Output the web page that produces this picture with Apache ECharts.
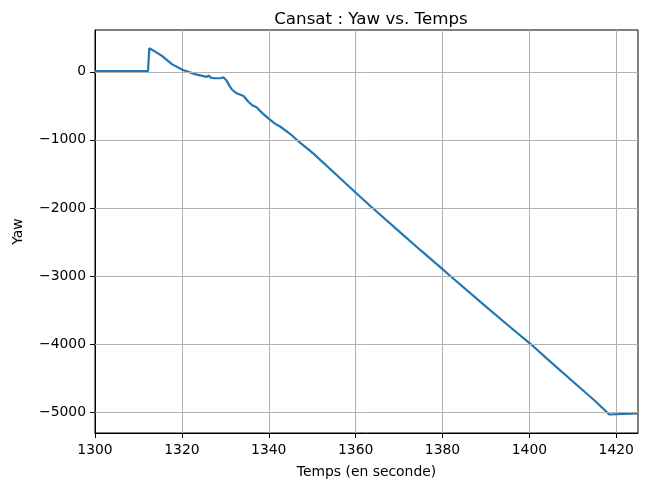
<!DOCTYPE html>
<html>
<head>
<meta charset="utf-8">
<script src="https://cdn.jsdelivr.net/npm/echarts@6/dist/echarts.min.js"></script>
<style>html,body{margin:0;padding:0;background:#fff;}#c{width:650px;height:484px;}</style>
</head>
<body>
<div id="c"></div>
<script>
// Data
const times = [1300, 1312.2, 1312.5, 1313.5, 1315.4, 1317.7, 1320.1, 1323, 1325.7, 1326.2, 1326.6, 1327.5, 1328.8, 1329.6, 1330.3, 1330.9, 1331.5, 1332.6, 1334.2, 1335.3, 1336.2, 1337.2, 1338.4, 1339.9, 1341.5, 1342.6, 1344.9, 1347.2, 1350.3, 1355, 1360.1, 1363.7, 1370, 1375, 1380, 1381.8, 1390, 1395, 1400.3, 1405, 1410, 1415, 1418.4, 1418.8, 1425];
const yaw = [10, 10, 345, 310, 234, 113, 29, -34, -75, -55, -85, -95, -95, -82, -131, -200, -260, -316, -355, -440, -490, -521, -600, -685, -765, -804, -911, -1042, -1203, -1480, -1780, -1990, -2345, -2625, -2900, -3000, -3450, -3720, -4000, -4270, -4550, -4830, -5035, -5020, -5020];
const xTicks = [1300, 1320, 1340, 1360, 1380, 1400, 1420];
const yTicks = [0, -1000, -2000, -3000, -4000, -5000];

const seriesData = times.map((t, i) => [t, yaw[i]]);
const font = 'DejaVu Sans';
const fmtY = v => String(v).replace('-', '\u2212');

const chart = echarts.init(document.getElementById('c'), null, {renderer: 'canvas'});
chart.setOption({
  animation: false,
  backgroundColor: '#fff',
  title: {
    text: 'Cansat : Yaw vs. Temps',
    left: 366, top: 6, textAlign: 'center',
    textStyle: {fontFamily: font, fontSize: 16.7, fontWeight: 'normal', color: '#000'}
  },
  grid: {left: 95, right: 12, top: 30, bottom: 49, show: true, borderColor: '#000', borderWidth: 1, backgroundColor: 'transparent'},
  xAxis: {
    type: 'value', min: 1300, max: 1425, interval: 20,
    name: 'Temps (en seconde)', nameLocation: 'middle', nameGap: 32,
    nameTextStyle: {fontFamily: font, fontSize: 13.9, color: '#000'},
    axisLine: {show: true, onZero: false, lineStyle: {color: '#000', width: 1}},
    axisTick: {show: true, length: 5, lineStyle: {color: '#000'}, customValues: xTicks},
    axisLabel: {fontFamily: font, fontSize: 13.9, color: '#000', margin: 10, customValues: xTicks, formatter: v => String(v)},
    splitLine: {show: true, lineStyle: {color: '#b0b0b0', width: 1}}
  },
  yAxis: {
    type: 'value', min: -5307, max: 614,
    name: 'Yaw', nameLocation: 'middle', nameGap: 70,
    nameTextStyle: {fontFamily: font, fontSize: 13.9, color: '#000'},
    axisLine: {show: true, onZero: false, lineStyle: {color: '#000', width: 1}},
    axisTick: {show: true, length: 5, lineStyle: {color: '#000'}, customValues: yTicks},
    axisLabel: {fontFamily: font, fontSize: 13.9, color: '#000', margin: 9, customValues: yTicks, formatter: fmtY},
    splitLine: {show: false}
  },
  series: [
    {
      type: 'line', data: [[1300, 0]], symbol: 'none', silent: true, z: 1,
      lineStyle: {width: 0, opacity: 0},
      markLine: {
        silent: true, symbol: 'none', animation: false,
        label: {show: false},
        lineStyle: {color: '#b0b0b0', width: 1, type: 'solid'},
        data: yTicks.map(v => ({yAxis: v}))
      }
    },
    {
      type: 'line', data: seriesData, symbol: 'none', z: 3,
      lineStyle: {color: '#1f77b4', width: 2.2}
    }
  ]
});
</script>
</body>
</html>
